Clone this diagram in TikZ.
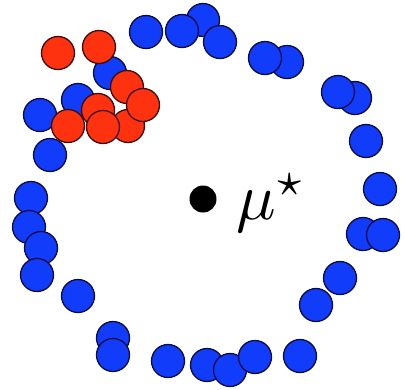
\documentclass[tikz,border=0pt]{standalone}
\usepackage{amsmath}
\definecolor{bfill}{RGB}{16,60,250}
\definecolor{bline}{RGB}{10,10,70}
\definecolor{rfill}{RGB}{255,50,15}
\definecolor{rline}{RGB}{60,10,10}
\tikzset{
  bdot/.style={circle,draw=bline,fill=bfill,line width=1.3pt,minimum size=33bp,inner sep=0pt},
  rdot/.style={circle,draw=rline,fill=rfill,line width=1.3pt,minimum size=33bp,inner sep=0pt},
}
\begin{document}
\begin{tikzpicture}[x=1bp,y=-1bp]
\useasboundingbox (0,0) rectangle (405,390);
% blue ring
\node[bdot] (b1) at (146,32) {};
\node[bdot] (b3) at (203,20) {};
\node[bdot] (b2) at (182,31) {};
\node[bdot] (b4) at (220,42) {};
\node[bdot] (b6) at (287,62) {};
\node[bdot] (b5) at (265,58) {};
\node[bdot] (b8) at (355,98) {};
\node[bdot] (b7) at (338,92) {};
\node[bdot] (b9) at (366,141) {};
\node[bdot] (b10) at (380,189) {};
\node[bdot] (b11) at (363,234) {};
\node[bdot] (b12) at (383,235) {};
\node[bdot] (b13) at (340,278) {};
\node[bdot] (b14) at (316,305) {};
\node[bdot] (b15) at (300,356) {};
\node[bdot] (b16) at (207,365) {};
\node[bdot] (b17) at (230,370) {};
\node[bdot] (b18) at (255,357) {};
\node[bdot] (b19) at (168,361) {};
\node[bdot] (b20) at (113,338) {};
\node[bdot] (b21) at (113,355) {};
\node[bdot] (b22) at (78,296) {};
\node[bdot] (b23) at (31,198) {};
\node[bdot] (b24) at (29,227) {};
\node[bdot] (b25) at (41,248) {};
\node[bdot] (b26) at (37,275) {};
\node[bdot] (b27) at (50,155) {};
\node[bdot] (b28) at (40,115) {};
\node[bdot] (b29) at (78,100) {};
\node[bdot] (b30) at (110,73) {};
% red cluster
\node[rdot] (r1) at (98,110) {};
\node[rdot] (r2) at (128,126) {};
\node[rdot] (r3) at (127,87) {};
\node[rdot] (r4) at (143,105) {};
\node[rdot] (r5) at (68,126) {};
\node[rdot] (r6) at (103,127) {};
\node[rdot] (r7) at (58,53) {};
\node[rdot] (r8) at (99,47) {};
% mean
\node[circle,fill=black,minimum size=27bp,inner sep=0pt] (mu) at (203,199) {};
\node[anchor=base west,inner sep=0pt] (mulabel) at (236,219) {\scalebox{6.6}{$\mu^{\star}$}};
\end{tikzpicture}
\end{document}
